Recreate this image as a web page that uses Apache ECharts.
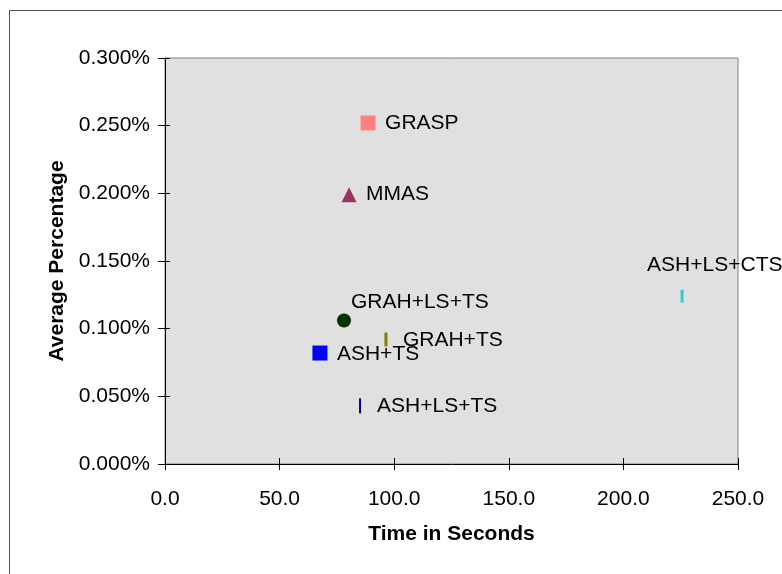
<!DOCTYPE html>
<html><head><meta charset="utf-8">
<script src="https://cdn.jsdelivr.net/npm/echarts@6/dist/echarts.min.js"></script>
<style>html,body{margin:0;padding:0;background:#fff}#c{width:782px;height:574px}</style>
</head><body><div id="c"></div>
<script>
var names = ['GRASP','MMAS','GRAH+LS+TS','GRAH+TS','ASH+TS','ASH+LS+TS','ASH+LS+CTS'];
var times = [88.6, 80.3, 78.1, 96.4, 67.6, 85.1, 225.6];
var percents = [0.252, 0.199, 0.106, 0.092, 0.082, 0.043, 0.124];
var xTicks = [0, 50, 100, 150, 200, 250];
var yTicks = [0, 0.05, 0.1, 0.15, 0.2, 0.25, 0.3];

var styles = [
  {symbol:'rect', size:15, color:'#FF8080', off:[17,0]},
  {symbol:'triangle', size:15, color:'#993366', off:[17,0]},
  {symbol:'circle', size:14, color:'#003300', off:[7,-18]},
  {symbol:'rect', size:[3,14], color:'#808000', off:[17,1]},
  {symbol:'rect', size:15, color:'#0000FF', off:[17,1]},
  {symbol:'rect', size:[2,15], color:'#000080', off:[17,0]},
  {symbol:'rect', size:[3,13], color:'#33CCCC', off:[-35,-31]}
];
var font = 'Liberation Sans, Arial, sans-serif';
var FS = 21;
var series = names.map(function(n,i){
  var s = styles[i];
  return {
    type:'scatter', name:n, symbol:s.symbol, symbolSize:s.size,
    data:[[times[i], percents[i]]],
    itemStyle:{color:s.color, opacity:1},
    label:{show:true, formatter:n, position:'inside', align:'left', verticalAlign:'middle', offset:s.off, color:'#000', fontSize:FS, fontFamily:font},
    emphasis:{disabled:true}, z:3
  };
});
var chart = echarts.init(document.getElementById('c'));
chart.setOption({
  animation:false,
  backgroundColor:'#fff',
  graphic:[{type:'rect', shape:{x:9.5, y:10.5, width:800, height:600}, style:{fill:'none', stroke:'#505050', lineWidth:1}, z:-10}],
  grid:{left:165, right:44, top:58, bottom:110, show:true, backgroundColor:'#E0E0E0', borderColor:'#808080', borderWidth:1},
  xAxis:[{
    type:'value', min:0, max:250, interval:50,
    name:'Time in Seconds', nameLocation:'middle', nameGap:60,
    nameTextStyle:{fontSize:FS, fontWeight:'bold', fontFamily:font, color:'#000'},
    axisLine:{show:true, lineStyle:{color:'#000', width:1}},
    axisTick:{show:true, length:6, lineStyle:{color:'#000'}},
    axisLabel:{fontSize:FS, fontFamily:font, color:'#000', margin:25, formatter:function(v){return v.toFixed(1);}},
    splitLine:{show:false}
  },{
    type:'value', min:0, max:250, interval:50, position:'bottom',
    axisLine:{show:false}, axisTick:{show:true, inside:true, length:6, lineStyle:{color:'#000'}},
    axisLabel:{show:false}, splitLine:{show:false}
  }],
  yAxis:[{
    type:'value', min:0, max:0.3, interval:0.05,
    name:'Average Percentage', nameLocation:'middle', nameGap:95, nameRotate:90,
    nameTextStyle:{fontSize:FS, fontWeight:'bold', fontFamily:font, color:'#000'},
    axisLine:{show:true, lineStyle:{color:'#000', width:1}},
    axisTick:{show:true, length:7, lineStyle:{color:'#000'}},
    axisLabel:{fontSize:FS, fontFamily:font, color:'#000', margin:15, formatter:function(v){return v.toFixed(3)+'%';}},
    splitLine:{show:false}
  },{
    type:'value', min:0, max:0.3, interval:0.05, position:'left',
    axisLine:{show:false}, axisTick:{show:true, inside:true, length:5, lineStyle:{color:'#000'}},
    axisLabel:{show:false}, splitLine:{show:false}
  }],
  series:series
});
</script></body></html>
